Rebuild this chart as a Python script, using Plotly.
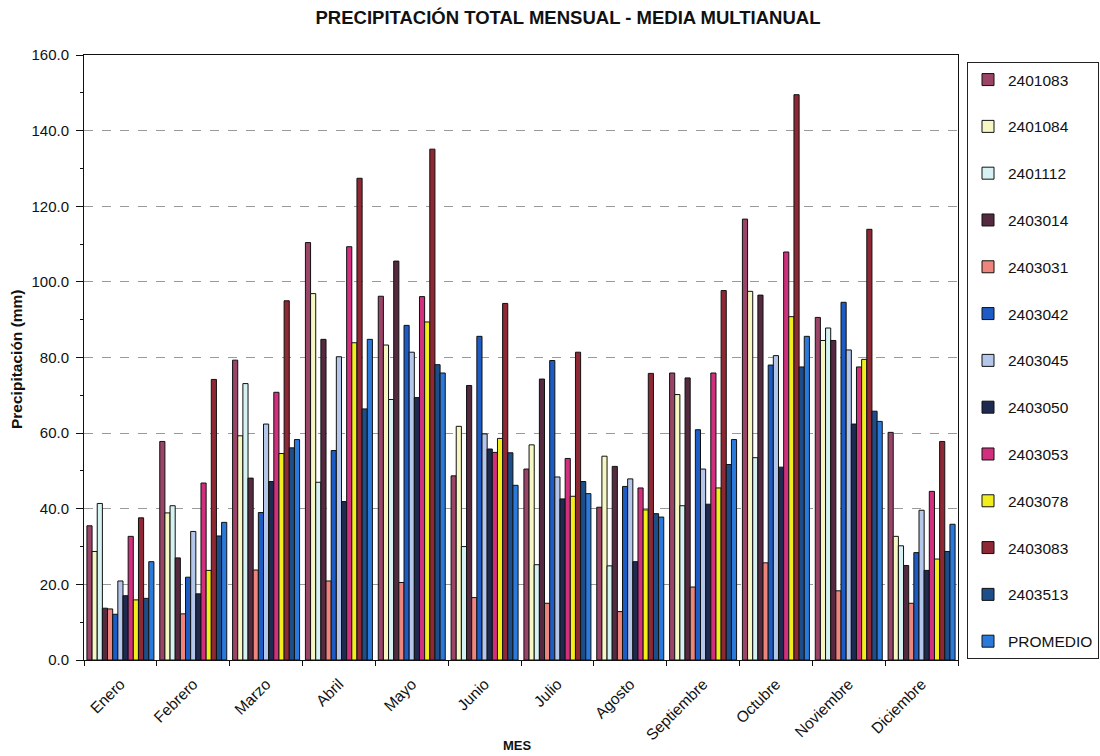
import plotly.graph_objects as go

months = ["Enero", "Febrero", "Marzo", "Abril", "Mayo", "Junio", "Julio",
          "Agosto", "Septiembre", "Octubre", "Noviembre", "Diciembre"]

s2401083 = [35.5, 57.8, 79.3, 110.4, 96.2, 48.7, 50.5, 40.4, 75.9, 116.6, 90.6, 60.2]
s2401084 = [28.7, 38.9, 59.3, 96.9, 83.3, 61.8, 56.9, 53.9, 70.2, 97.5, 84.5, 32.7]
s2401112 = [41.4, 40.8, 73.1, 47.0, 68.9, 30.0, 25.2, 24.9, 40.8, 53.5, 87.8, 30.2]
s2403014 = [13.7, 27.0, 48.1, 84.8, 105.5, 72.6, 74.3, 51.2, 74.6, 96.5, 84.5, 25.0]
s2403031 = [13.5, 12.2, 23.8, 20.9, 20.5, 16.5, 15.0, 12.8, 19.3, 25.7, 18.3, 15.0]
s2403042 = [12.1, 21.9, 39.0, 55.4, 88.5, 85.6, 79.2, 45.9, 60.9, 78.0, 94.6, 28.4]
s2403045 = [20.9, 34.0, 62.4, 80.2, 81.4, 59.8, 48.4, 47.9, 50.5, 80.5, 82.0, 39.6]
s2403050 = [17.0, 17.5, 47.2, 41.9, 69.4, 55.8, 42.6, 26.0, 41.2, 51.0, 62.4, 23.7]
s2403053 = [32.7, 46.8, 70.8, 109.3, 96.1, 54.9, 53.3, 45.5, 75.9, 107.9, 77.5, 44.6]
s2403078 = [15.9, 23.7, 54.6, 83.9, 89.4, 58.6, 43.3, 39.7, 45.5, 90.8, 79.5, 26.7]
s2403083 = [37.6, 74.2, 95.0, 127.4, 135.1, 94.3, 81.4, 75.8, 97.7, 149.5, 113.9, 57.8]
s2403513 = [16.3, 32.8, 56.1, 66.4, 78.1, 54.8, 47.2, 38.7, 51.7, 77.5, 65.8, 28.7]
promedio = [26.0, 36.4, 58.3, 84.8, 75.9, 46.2, 44.0, 37.8, 58.3, 85.6, 63.1, 35.9]

series_names = ["2401083", "2401084", "2401112", "2403014", "2403031", "2403042",
                "2403045", "2403050", "2403053", "2403078", "2403083", "2403513", "PROMEDIO"]
series_values = [s2401083, s2401084, s2401112, s2403014, s2403031, s2403042,
                 s2403045, s2403050, s2403053, s2403078, s2403083, s2403513, promedio]
series_colors = ["#9A4468", "#F7F7C4", "#D6F2F2", "#55293F", "#EE857C", "#1C5CC4",
                 "#B4C6EA", "#1E2A50", "#D2307E", "#F2EE1E", "#8E2834", "#1D4E8A", "#2A7ADC"]

FONT = "Arial, Liberation Sans, sans-serif"
L, R, T, B = 84, 142, 55, 96
PW, PH = 1100 - L - R, 756 - T - B

fig = go.Figure()
for name, vals, col in zip(series_names, series_values, series_colors):
    fig.add_trace(go.Bar(
        x=months, y=vals, name=name,
        marker=dict(color=col, line=dict(color="#111111", width=1)),
        legendgroup=name,
    ))

fig.update_layout(
    width=1100, height=756,
    paper_bgcolor="white", plot_bgcolor="white",
    barmode="group", bargap=0.08, bargroupgap=0.0,
    margin=dict(l=L, r=R, t=T, b=B, autoexpand=False),
    font=dict(family=FONT, color="#111111"),
    title=dict(text="<b>PRECIPITACIÓN TOTAL MENSUAL - MEDIA MULTIANUAL</b>",
               x=568 / 1100, xanchor="center", y=1 - 18 / 756, yanchor="middle",
               font=dict(size=18.5, family=FONT, color="#111111")),
    legend=dict(
        x=(967 - L) / PW, xanchor="left", y=1 - 7 / PH, yanchor="top",
        bordercolor="#222222", borderwidth=1, bgcolor="white",
        font=dict(size=15.5, family=FONT, color="#111111"),
        traceorder="grouped", tracegroupgap=23.65,
    ),
    showlegend=True,
    annotations=[
        dict(text="<b>Precipitación (mm)</b>", xref="paper", yref="paper",
             x=(17 - L) / PW, y=(660 - 359) / PH, xanchor="center", yanchor="middle",
             textangle=-90, showarrow=False, font=dict(size=15.5, family=FONT, color="#111111")),
        dict(text="<b>MES</b>", xref="paper", yref="paper",
             x=(517 - L) / PW, y=-(745 - 660) / PH, xanchor="center", yanchor="middle",
             showarrow=False, font=dict(size=13, family=FONT, color="#111111")),
    ],
)

fig.update_xaxes(
    tickangle=-45, tickfont=dict(size=15.5, family=FONT), ticklabelstandoff=8,
    tickson="boundaries", ticks="outside", ticklen=5, tickcolor="#111111",
    showline=True, linecolor="#111111", linewidth=1, mirror=True,
    showgrid=False,
)
fig.update_yaxes(
    range=[0, 160], dtick=20, tickformat=".1f",
    tickfont=dict(size=15, family=FONT), ticklabelstandoff=4,
    ticks="outside", ticklen=7, tickcolor="#111111",
    minor=dict(dtick=10, ticks="outside", ticklen=3, tickcolor="#111111", showgrid=False),
    showline=True, linecolor="#111111", linewidth=1, mirror=True,
    showgrid=True, gridcolor="#9A9A9A", griddash="dash", gridwidth=1,
    zeroline=False,
)

fig.write_html("out.html", config={"displayModeBar": False},
               post_script="document.body.style.margin='0';document.body.style.overflow='hidden';")
